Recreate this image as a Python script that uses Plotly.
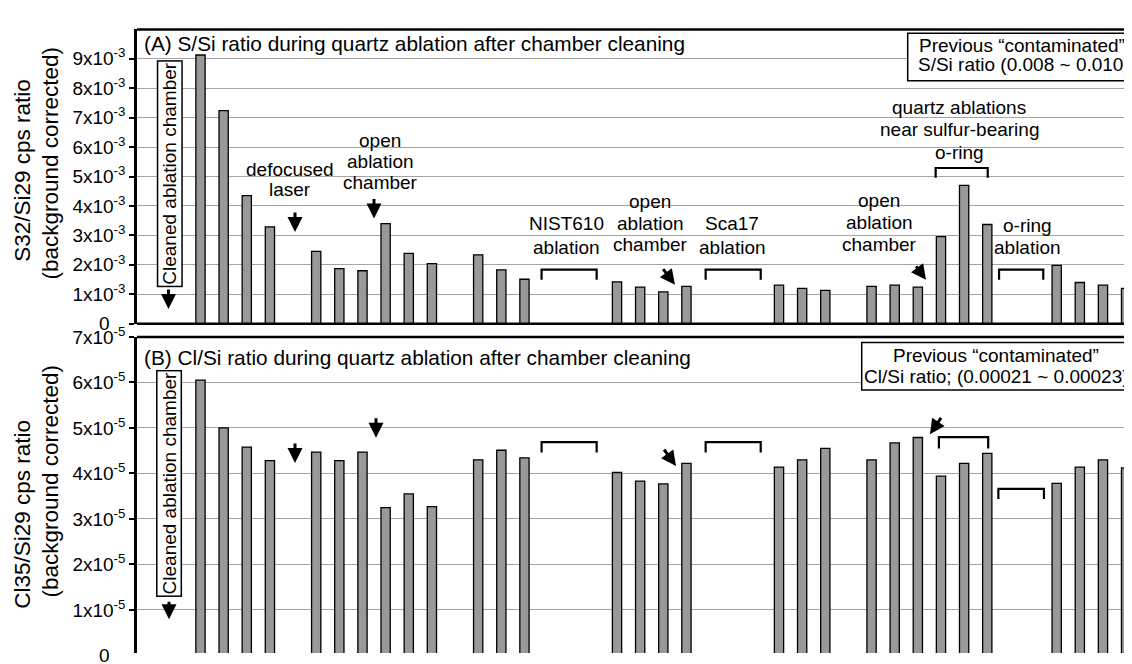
import plotly.graph_objects as go

# ---------------- data ----------------
slots = list(range(41))  # analysis slots (None = no analysis in that slot)
s_si_e3 = [9.13, 7.24, 4.35, 3.29, None, 2.46, 1.87, 1.80, 3.40, 2.39, 2.04, None,
           2.34, 1.83, 1.51, None, None, None, 1.42, 1.24, 1.08, 1.27, None, None, None,
           1.31, 1.20, 1.13, None, 1.27, 1.31, 1.24, 2.96, 4.70, 3.37, None, None,
           1.98, 1.40, 1.31, 1.20]
cl_si_e5 = [6.05, 5.00, 4.58, 4.28, None, 4.47, 4.28, 4.47, 3.25, 3.55, 3.27, None,
            4.30, 4.51, 4.34, None, None, None, 4.02, 3.83, 3.77, 4.22, None, None, None,
            4.14, 4.30, 4.55, None, 4.30, 4.67, 4.79, 3.94, 4.22, 4.44, None, None,
            3.78, 4.14, 4.30, 4.12]

s_tickvals = [0, 1e-3, 2e-3, 3e-3, 4e-3, 5e-3, 6e-3, 7e-3, 8e-3, 9e-3]
s_ticktext = ["0\u00a0\u00a0\u00a0", "1x10<sup>-3</sup>", "2x10<sup>-3</sup>", "3x10<sup>-3</sup>",
              "4x10<sup>-3</sup>", "5x10<sup>-3</sup>", "6x10<sup>-3</sup>", "7x10<sup>-3</sup>",
              "8x10<sup>-3</sup>", "9x10<sup>-3</sup>"]
cl_tickvals = [1e-5, 2e-5, 3e-5, 4e-5, 5e-5, 6e-5, 7e-5]
cl_ticktext = ["1x10<sup>-5</sup>", "2x10<sup>-5</sup>", "3x10<sup>-5</sup>", "4x10<sup>-5</sup>",
               "5x10<sup>-5</sup>", "6x10<sup>-5</sup>", "7x10<sup>-5</sup>"]

# ---------------- geometry helpers ----------------
# the page body has an 8 px margin, so the figure is sized to end at the window edge
OFF = 8
WIN_W, WIN_H = 1132, 664
W, H = WIN_W - OFF, WIN_H - OFF
PLOT_LEFT = 137                      # page x of the left axis
L = PLOT_LEFT - OFF
PW = W - L
PH = H
FONT = "Liberation Sans, Arial, sans-serif"


def px(x):
    """page x -> paper x"""
    return (x - PLOT_LEFT) / PW


def py(y):
    """page y -> paper y"""
    return (WIN_H - y) / PH


fig = go.Figure()
bar_style = dict(color="#999999", line=dict(color="black", width=1.3))
fig.add_trace(go.Bar(x=slots, y=[v * 1e-3 if v is not None else None for v in s_si_e3],
                     xaxis="x", yaxis="y", width=0.40, marker=bar_style,
                     showlegend=False, hoverinfo="skip"))
fig.add_trace(go.Bar(x=slots, y=[v * 1e-5 if v is not None else None for v in cl_si_e5],
                     xaxis="x2", yaxis="y2", width=0.40, marker=bar_style,
                     showlegend=False, hoverinfo="skip"))

xr = [-2.744, 40.255]
common_x = dict(range=xr, showgrid=False, showticklabels=False, zeroline=False,
                showline=False, ticks="", fixedrange=True)
common_y = dict(showgrid=True, gridcolor="#a4a4a4", gridwidth=1.2, zeroline=False,
                showline=True, linecolor="black", linewidth=2.5, ticks="outside",
                ticklen=5, tickwidth=1.5, tickcolor="black",
                tickfont=dict(family=FONT, size=19, color="black"), fixedrange=True)

fig.update_layout(
    width=W, height=H, margin=dict(l=L, r=0, t=0, b=0, pad=0),
    paper_bgcolor="white", plot_bgcolor="white",
    font=dict(family=FONT, color="black"), showlegend=False,
    xaxis=dict(domain=[0, 1], anchor="y", **common_x),
    xaxis2=dict(domain=[0, 1], anchor="y2", **common_x),
    yaxis=dict(domain=[py(322.2), py(16.7)], range=[0, 0.010], anchor="x",
               tickvals=s_tickvals, ticktext=s_ticktext, **common_y),
    yaxis2=dict(domain=[0, py(336)], range=[0.051e-5, 7e-5], anchor="x2",
                tickvals=cl_tickvals, ticktext=cl_ticktext, **common_y),
)

shapes = []
# panel borders
shapes.append(dict(type="line", xref="paper", yref="y domain", x0=0, x1=1, y0=0, y1=0,
                   line=dict(color="black", width=2.5)))
shapes.append(dict(type="line", xref="paper", yref="y domain", x0=0, x1=1, y0=1, y1=1,
                   line=dict(color="black", width=2.5)))
shapes.append(dict(type="line", xref="paper", yref="y2 domain", x0=0, x1=1, y0=1, y1=1,
                   line=dict(color="black", width=2.5)))

# brackets (x0, x1 in slot units, top, tip in data units)
brackets_top = [(14.74, 17.12, 1.84e-3, 1.49e-3), (21.83, 24.21, 1.84e-3, 1.49e-3),
                (31.77, 34.02, 5.29e-3, 4.96e-3), (34.51, 36.42, 1.84e-3, 1.49e-3)]
brackets_bot = [(14.74, 17.12, 4.69e-5, 4.46e-5), (21.83, 24.21, 4.69e-5, 4.46e-5),
                (31.91, 34.04, 4.80e-5, 4.55e-5), (34.48, 36.45, 3.66e-5, 3.44e-5)]
for (x0, x1, yt, yb) in brackets_top:
    shapes.append(dict(type="path", xref="x", yref="y",
                       path=f"M {x0},{yb} L {x0},{yt} L {x1},{yt} L {x1},{yb}",
                       line=dict(color="black", width=2.2)))
for (x0, x1, yt, yb) in brackets_bot:
    shapes.append(dict(type="path", xref="x2", yref="y2",
                       path=f"M {x0},{yb} L {x0},{yt} L {x1},{yt} L {x1},{yb}",
                       line=dict(color="black", width=2.2)))

# contamination boxes
for (x0, x1, y0, y1) in [(907.7, 1131, 20.7, 70), (861.7, 1131, 341.7, 391)]:
    shapes.append(dict(type="rect", xref="paper", yref="paper",
                       x0=px(x0), x1=px(x1), y0=py(y1), y1=py(y0),
                       line=dict(color="black", width=1.5), fillcolor="white"))

annotations = []
TS = 19


def text(t, x, y, size=TS, xanchor="center", **kw):
    annotations.append(dict(text=t, x=px(x), y=py(y), xref="paper", yref="paper",
                            showarrow=False, xanchor=xanchor, yanchor="middle",
                            font=dict(family=FONT, size=size, color="black"), **kw))


def block(lines, cx, ys, box):
    x0, x1, y0, y1 = box
    shapes.append(dict(type="rect", xref="paper", yref="paper", layer="between",
                       x0=px(x0), x1=px(x1), y0=py(y1), y1=py(y0),
                       line=dict(width=0), fillcolor="white"))
    for ln, y in zip(lines, ys):
        text(ln, cx, y)


def arrow(x, y, ax, ay):
    annotations.append(dict(text="", x=px(x), y=py(y), xref="paper", yref="paper",
                            showarrow=True, ax=ax, ay=ay, arrowhead=2, arrowsize=1,
                            arrowwidth=3, arrowcolor="black", standoff=0, startstandoff=0))


# panel titles
text("(A) S/Si ratio during quartz ablation after chamber cleaning", 142, 31,
     size=20.8, xanchor="left")
text("(B) Cl/Si ratio during quartz ablation after chamber cleaning", 142, 357,
     size=20.8, xanchor="left")

# contamination box texts
text("Previous “contaminated”", 1022, 33.3)
text("S/Si ratio (0.008 ~ 0.010)", 1024, 53.3)
text("Previous “contaminated”", 996, 355)
text("Cl/Si ratio; (0.00021 ~ 0.00023)", 996, 376.7)

# top-panel labels
block(["defocused", "laser"], 290, [162, 183], (246, 335, 150, 194))
block(["open", "ablation", "chamber"], 380, [132, 154, 176], (344, 417, 121, 188))
block(["NIST610", "ablation"], 566, [218.3, 242.7], (523, 607, 207, 254))
block(["open", "ablation", "chamber"], 650, [195, 218.3, 240], (610, 691, 184, 251))
block(["Sca17", "ablation"], 732, [218.3, 242.7], (697, 769, 207, 254))
block(["open", "ablation", "chamber"], 879, [194.3, 216.7, 240], (839, 920, 183, 251))
block(["quartz ablations", "near sulfur-bearing", "o-ring"], 959, [98, 121, 144],
      (874, 1042, 87, 155))
block(["o-ring", "ablation"], 1027, [220, 242.7], (992, 1064, 209, 254))

# cleaned-chamber boxes
for yc in (166.5, 488):
    annotations.append(dict(text="Cleaned ablation chamber", x=px(169.5), y=py(yc),
                            xref="paper", yref="paper", showarrow=False, textangle=-90,
                            xanchor="center", yanchor="middle",
                            font=dict(family=FONT, size=19, color="black"),
                            bgcolor="white", bordercolor="black", borderwidth=1.5,
                            borderpad=1))

# arrows (tip page position, tail offset in px)
for a in [(168.5, 307, 0, -21), (295, 227, 0, -21), (374, 213, 0, -21),
          (675, 281.7, -13, -17), (926, 276.7, -11, -15),
          (169, 629, 0, -19), (295, 466.7, 0, -21), (376, 440.7, 0, -21),
          (676, 470, -13, -18), (930, 437, 12, -18)]:
    arrow(*a)

# y-axis titles
for t, x, y in [("S32/Si29 cps ratio", 22.5, 163), ("(background corrected)", 51, 156),
                ("Cl35/Si29 cps ratio", 22.5, 520), ("(background corrected)", 51, 486)]:
    annotations.append(dict(text=t, x=px(x), y=py(y), xref="paper", yref="paper",
                            showarrow=False, textangle=-90, xanchor="center",
                            yanchor="middle", font=dict(family=FONT, size=22.5, color="black")))

# bottom-panel zero label (axis starts just below the visible area)
text("0", 112, 666.5, size=19, xanchor="right")

fig.update_layout(shapes=shapes, annotations=annotations)
fig.write_html("out.html")
